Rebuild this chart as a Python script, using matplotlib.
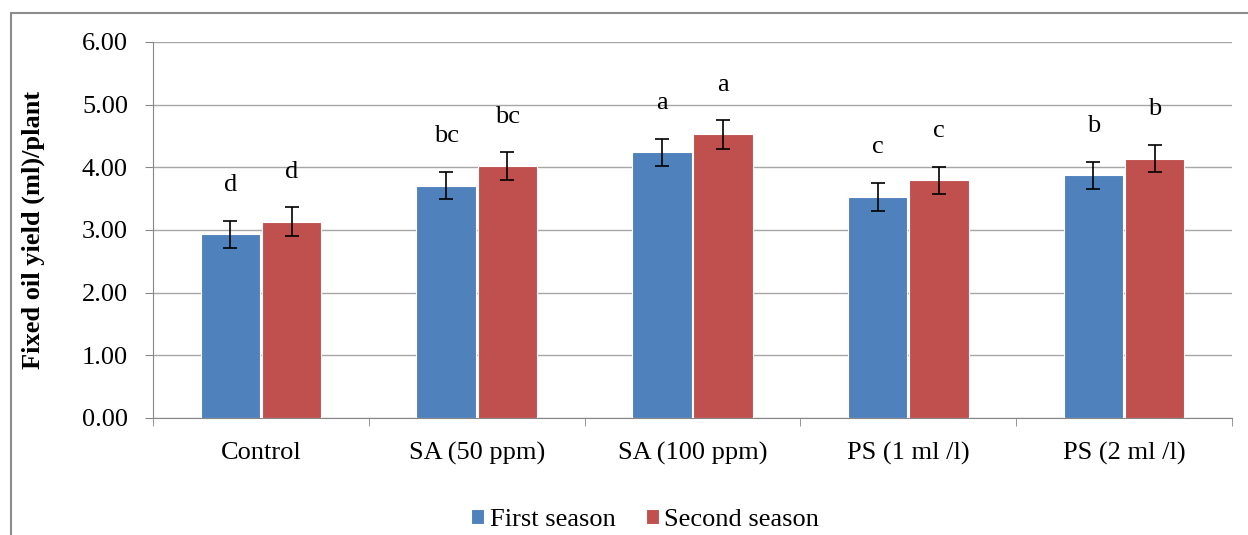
import numpy as np
import matplotlib.pyplot as plt
from matplotlib.patches import Rectangle

plt.rcParams['font.family'] = ['Liberation Serif', 'DejaVu Serif']

treatments = ["Control", "SA (50 ppm)", "SA (100 ppm)", "PS (1 ml /l)", "PS (2 ml /l)"]
first_season = [2.93, 3.71, 4.24, 3.53, 3.87]
second_season = [3.13, 4.02, 4.53, 3.79, 4.14]
first_err = [0.22, 0.22, 0.22, 0.22, 0.22]
second_err = [0.23, 0.22, 0.23, 0.22, 0.22]
first_letters = ["d", "bc", "a", "c", "b"]
second_letters = ["d", "bc", "a", "c", "b"]

blue = "#4f81bd"
red = "#c0504d"
grid_col = "#a6a6a6"
spine_col = "#868686"
fs = 19

fig = plt.figure(figsize=(12.48, 5.35), dpi=100)
ax = fig.add_axes([153/1248, 1-418/535, (1232-153)/1248, (418-42)/535])

# outer chart frame
fig.patches.append(Rectangle((11/1248, -0.05), 1.2, 1 - 13/535 + 0.05,
                             transform=fig.transFigure, fill=False,
                             edgecolor="#8c8c8c", linewidth=1.5))

x = np.arange(len(treatments))
w = 0.275
off = 0.142
ax.bar(x - off, first_season, w, color=blue, edgecolor="white", linewidth=0.8,
       label="First season", zorder=3)
ax.bar(x + off, second_season, w, color=red, edgecolor="white", linewidth=0.8,
       label="Second season", zorder=3)
ax.errorbar(x - off, first_season, yerr=first_err, fmt="none", ecolor="black",
            elinewidth=1.2, capsize=5, capthick=1.2, zorder=4)
ax.errorbar(x + off, second_season, yerr=second_err, fmt="none", ecolor="black",
            elinewidth=1.2, capsize=5, capthick=1.2, zorder=4)

for xi, v, t in zip(x - off, first_season, first_letters):
    ax.text(xi, v + 0.79, t, ha="center", va="center", fontsize=fs)
for xi, v, t in zip(x + off, second_season, second_letters):
    ax.text(xi, v + 0.79, t, ha="center", va="center", fontsize=fs)

ax.set_xlim(-0.5, len(treatments) - 0.5)
ax.set_ylim(0, 6)
ax.set_yticks(np.arange(0, 7, 1))
ax.set_yticklabels(["%.2f" % v for v in np.arange(0, 7, 1)], fontsize=fs)
ax.set_xticks(x)
ax.set_xticklabels(treatments, fontsize=fs)
ax.tick_params(axis="x", length=0, pad=17)
ax.set_xticks(np.arange(-0.5, len(treatments)), minor=True)
ax.tick_params(axis="x", which="minor", length=6, color=spine_col)
ax.tick_params(axis="y", length=6, color=spine_col, pad=12)

ax.yaxis.grid(True, color=grid_col, linewidth=1)
ax.set_axisbelow(True)
for s in ["top", "right"]:
    ax.spines[s].set_visible(False)
for s in ["left", "bottom"]:
    ax.spines[s].set_color(spine_col)

ax.set_ylabel("Fixed oil yield (ml)/plant", fontsize=fs, fontweight="bold", va="center")
ax.yaxis.set_label_coords((33 - 153) / 1079, 0.5)

fig.legend(loc="center", bbox_to_anchor=(645/1248, 1-520/535), ncol=2,
           frameon=False, fontsize=fs, handlelength=0.5, handleheight=0.5,
           handletextpad=0.2, columnspacing=1.15)

fig.savefig("out.png", dpi=100)
